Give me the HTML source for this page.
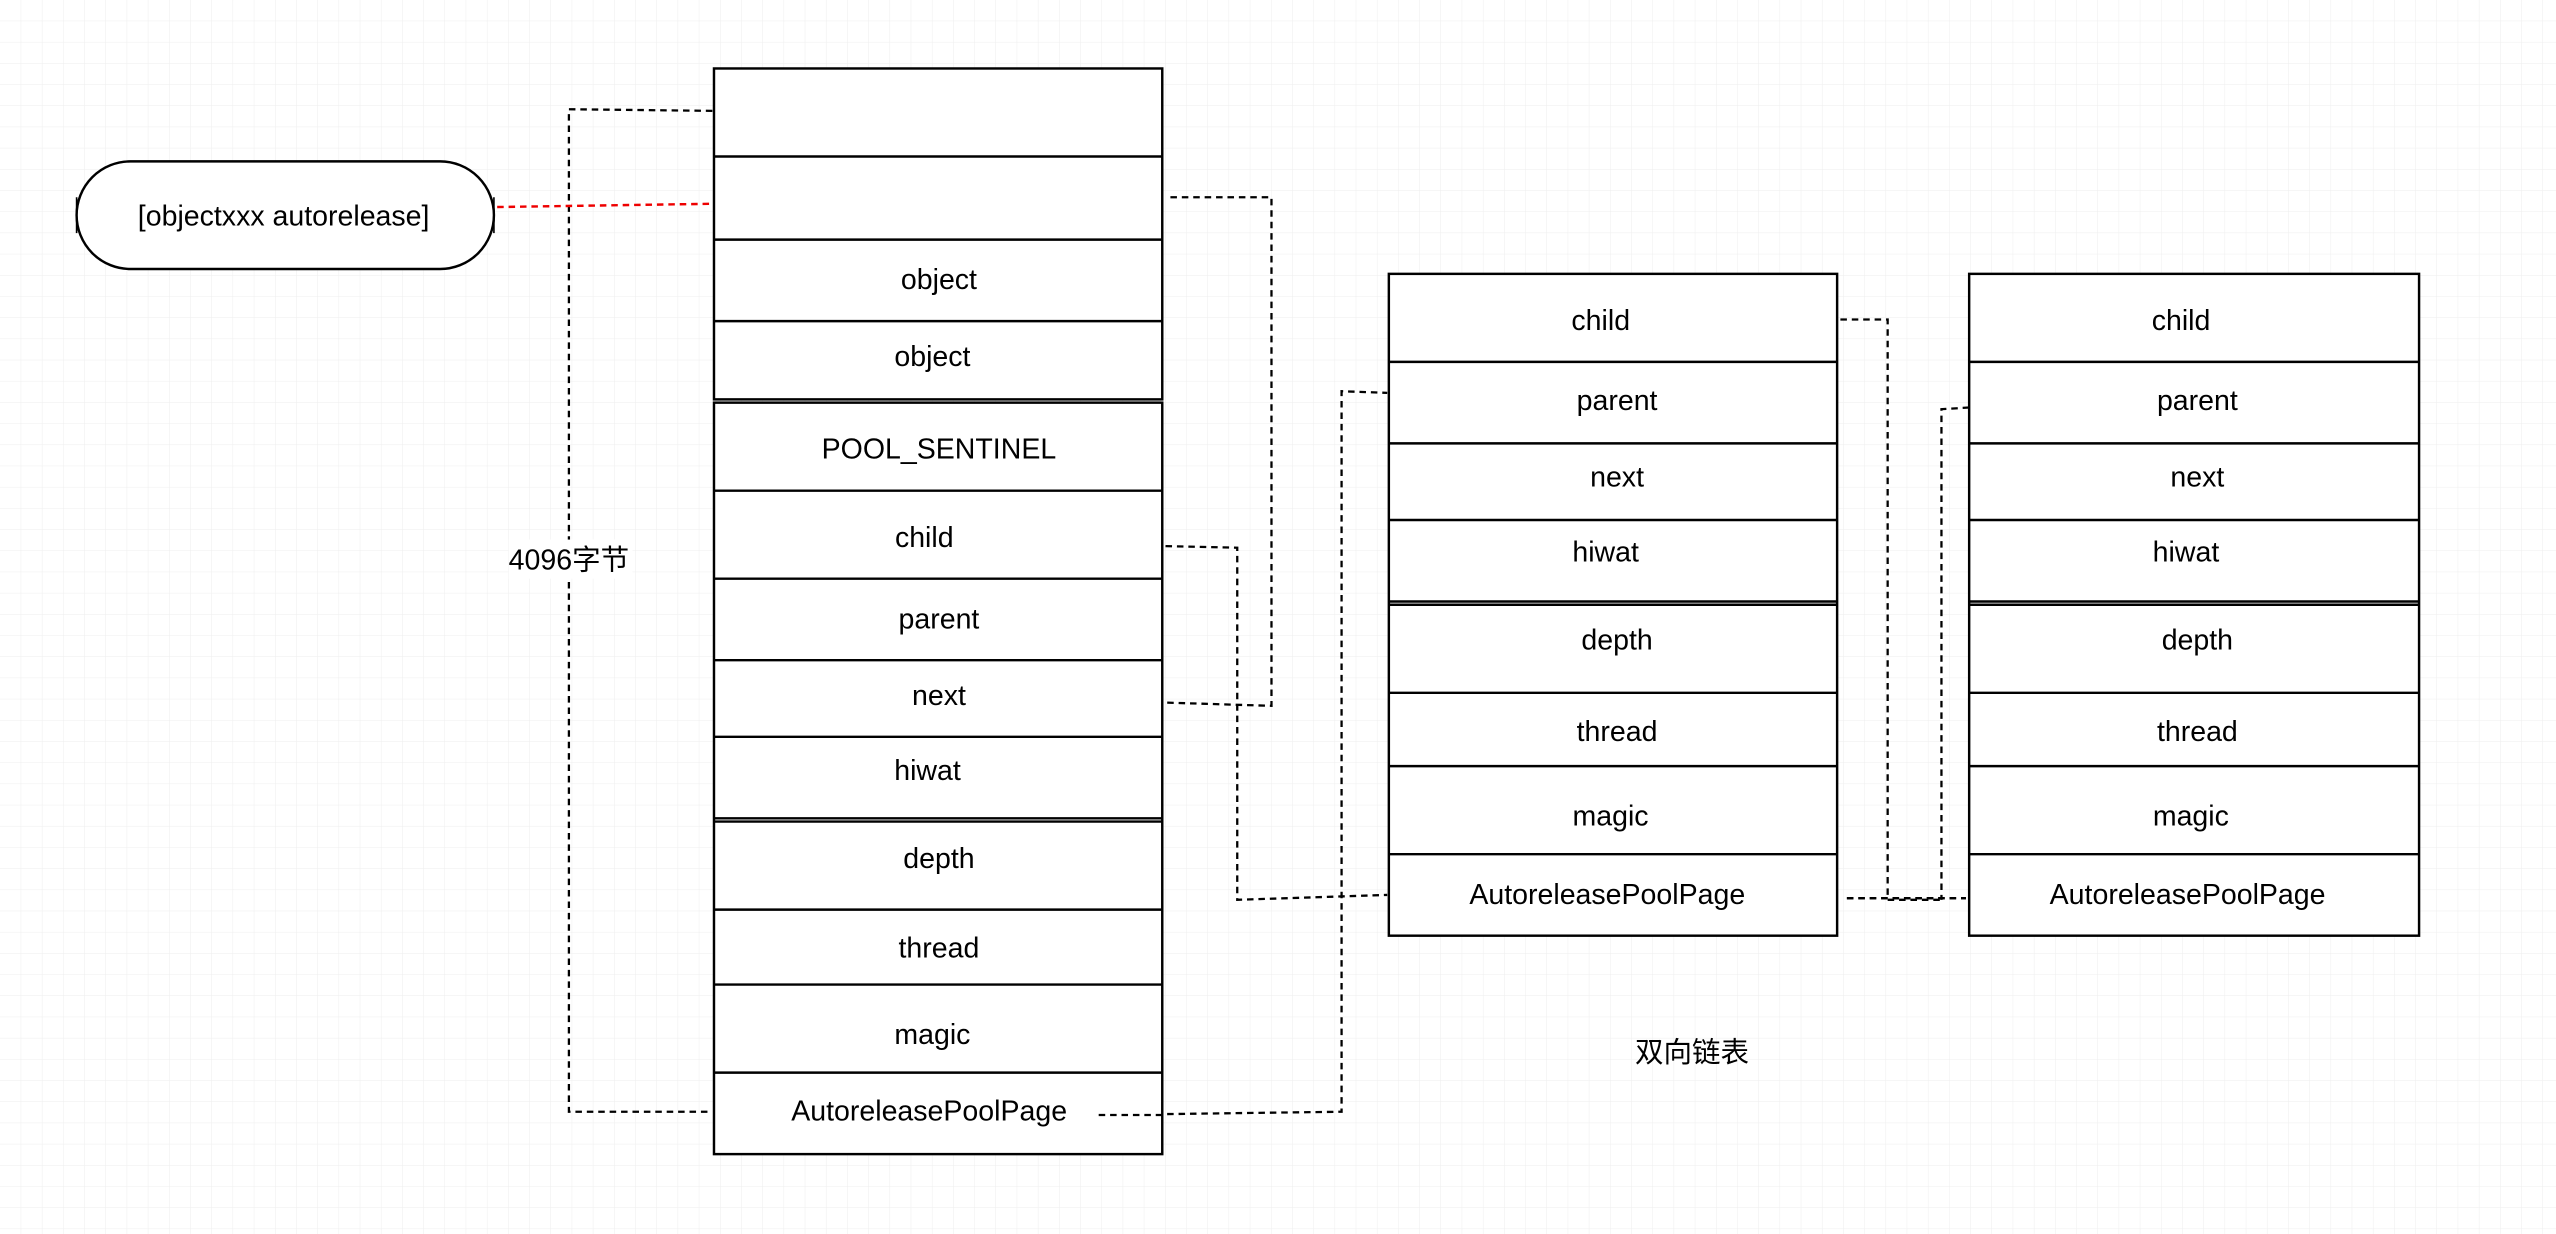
<!DOCTYPE html>
<html><head><meta charset="utf-8"><style>
html,body{margin:0;padding:0;background:#fff;}
svg{display:block;}
text{font-family:"Liberation Sans","Noto Sans CJK SC",sans-serif;font-size:17.5px;fill:#000;text-anchor:middle;dominant-baseline:middle;}
</style></head><body>
<svg width="2556" height="1234" viewBox="0 0 1568 757" xmlns="http://www.w3.org/2000/svg">
<defs>
<pattern id="g" width="13" height="13" patternUnits="userSpaceOnUse">
<path d="M13 0V13M0 13H13" stroke="#eeeeee" stroke-width="0.6" fill="none"/>
</pattern>
</defs>
<rect width="1568" height="757" fill="#fff"/>
<rect width="1568" height="757" fill="url(#g)"/>

<g fill="none" stroke="#000" stroke-width="1.4" stroke-dasharray="4,3">
<polyline points="437,68 349,67 349,682 437,682"/>
<polyline points="718,121 780,121 780,433 715,431"/>
<polyline points="715,335 759,336 759,552 851,549"/>
<polyline points="674,684 823,682 823,240 851,241"/>
<polyline points="1129,196 1158,196 1158,552 1190,552"/>
<polyline points="1133,551 1206,551"/>
<polyline points="1208,250 1191,251 1191,552"/>
</g>
<line x1="305" y1="127" x2="437" y2="125" stroke="#e00" stroke-width="1.5" stroke-dasharray="4,3"/>

<rect x="47" y="99" width="256" height="66" rx="33" fill="#fff" stroke="#000" stroke-width="1.5"/>
<line x1="47" y1="121" x2="47" y2="143" stroke="#000"/><line x1="303" y1="121" x2="303" y2="143" stroke="#000"/>

<rect x="312" y="331" width="76" height="24" fill="#fff"/>

<g fill="#fff" stroke="#000" stroke-width="1.5">
<rect x="438" y="42" width="275" height="203"/>
<rect x="438" y="247" width="275" height="461"/>
<rect x="852" y="168" width="275" height="406"/>
<rect x="1208" y="168" width="276" height="406"/>
</g>
<g stroke="#000" stroke-width="1.5">
<line x1="438" y1="96" x2="713" y2="96"/><line x1="438" y1="147" x2="713" y2="147"/><line x1="438" y1="197" x2="713" y2="197"/>
<line x1="438" y1="301" x2="713" y2="301"/><line x1="438" y1="355" x2="713" y2="355"/><line x1="438" y1="405" x2="713" y2="405"/>
<line x1="438" y1="452" x2="713" y2="452"/><line x1="438" y1="502" x2="713" y2="502"/><line x1="438" y1="504" x2="713" y2="504"/>
<line x1="438" y1="558" x2="713" y2="558"/><line x1="438" y1="604" x2="713" y2="604"/><line x1="438" y1="658" x2="713" y2="658"/>
<line x1="852" y1="222" x2="1127" y2="222"/><line x1="852" y1="272" x2="1127" y2="272"/><line x1="852" y1="319" x2="1127" y2="319"/>
<line x1="852" y1="369" x2="1127" y2="369"/><line x1="852" y1="371" x2="1127" y2="371"/><line x1="852" y1="425" x2="1127" y2="425"/>
<line x1="852" y1="470" x2="1127" y2="470"/><line x1="852" y1="524" x2="1127" y2="524"/>
<line x1="1208" y1="222" x2="1484" y2="222"/><line x1="1208" y1="272" x2="1484" y2="272"/><line x1="1208" y1="319" x2="1484" y2="319"/>
<line x1="1208" y1="369" x2="1484" y2="369"/><line x1="1208" y1="371" x2="1484" y2="371"/><line x1="1208" y1="425" x2="1484" y2="425"/>
<line x1="1208" y1="470" x2="1484" y2="470"/><line x1="1208" y1="524" x2="1484" y2="524"/>
</g>
<g stroke="#000" stroke-width="1.4" fill="none" stroke-dasharray="4,3">
<line x1="674" y1="684" x2="713" y2="684"/>
<line x1="1133" y1="551" x2="1206" y2="551"/>
</g>

<g transform="translate(0,1.8)">
<text x="174" y="132">[objectxxx autorelease]</text>
<text x="349" y="343">4096字节</text>
<text x="576" y="171">object</text>
<text x="572" y="218">object</text>
<text x="576" y="275">POOL_SENTINEL</text>
<text x="567" y="329">child</text>
<text x="576" y="379">parent</text>
<text x="576" y="426">next</text>
<text x="569" y="472">hiwat</text>
<text x="576" y="526">depth</text>
<text x="576" y="581">thread</text>
<text x="572" y="634">magic</text>
<text x="570" y="681">AutoreleasePoolPage</text>

<text x="982" y="196">child</text>
<text x="992" y="245">parent</text>
<text x="992" y="292">next</text>
<text x="985" y="338">hiwat</text>
<text x="992" y="392">depth</text>
<text x="992" y="448">thread</text>
<text x="988" y="500">magic</text>
<text x="986" y="548">AutoreleasePoolPage</text>

<text x="1338" y="196">child</text>
<text x="1348" y="245">parent</text>
<text x="1348" y="292">next</text>
<text x="1341" y="338">hiwat</text>
<text x="1348" y="392">depth</text>
<text x="1348" y="448">thread</text>
<text x="1344" y="500">magic</text>
<text x="1342" y="548">AutoreleasePoolPage</text>

<text x="1038" y="645">双向链表</text>
</g>
</svg>
</body></html>
